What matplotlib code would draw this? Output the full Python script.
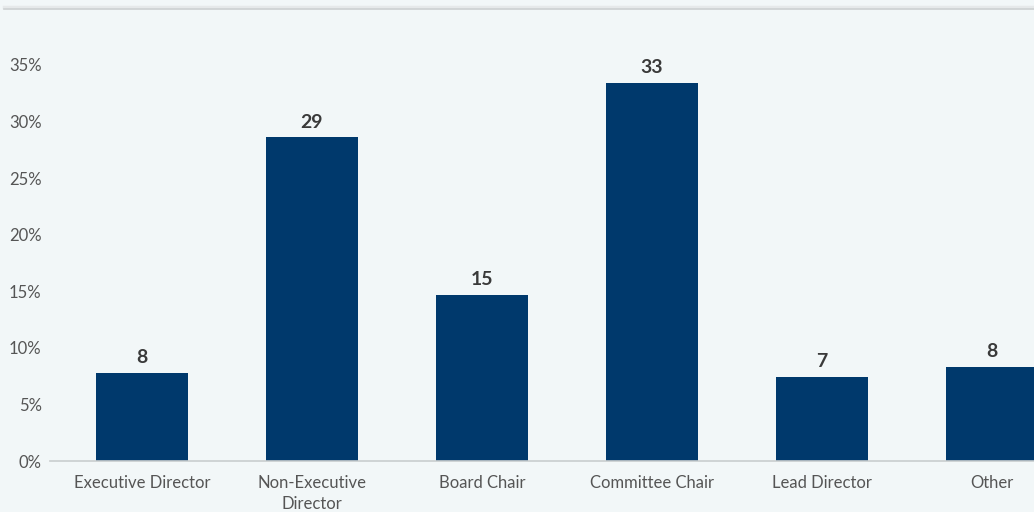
import matplotlib
matplotlib.use("Agg")
import matplotlib.pyplot as plt
from matplotlib.lines import Line2D

plt.rcParams['font.family'] = ['Lato', 'DejaVu Sans']

roles = ["Executive Director", "Non-Executive\nDirector", "Board Chair",
         "Committee Chair", "Lead Director", "Other"]
shares = [7.8, 28.6, 14.7, 33.4, 7.45, 8.3]
yticks = [0, 5, 10, 15, 20, 25, 30, 35]

bg = "#f2f7f8"
navy = "#00396c"

W, H = 1034, 512
fig = plt.figure(figsize=(W / 100, H / 100), dpi=100, facecolor=bg)
# axis runs past the right edge, so the last bar gets cut off
ax = fig.add_axes([50 / W, 51 / H, 1027 / W, 452.6 / H], facecolor=bg)

x = range(len(roles))
ax.bar(x, shares, width=0.54, color=navy, zorder=2)
for xi, v in zip(x, shares):
    ax.text(xi, v + 0.6, f"{v:.0f}", ha="center", va="bottom",
            fontsize=14, fontweight="bold", color="#3a3a3a")

ax.set_xlim(-0.54, 5.5)
ax.set_ylim(0, 40)
ax.set_yticks(yticks)
ax.set_yticklabels([f"{t}%" for t in yticks])
ax.set_xticks(list(x))
ax.set_xticklabels(roles, linespacing=1.4)
ax.tick_params(axis="y", length=0, pad=6, labelsize=12, labelcolor="#555555")
ax.tick_params(axis="x", length=0, pad=10, labelsize=12, labelcolor="#555555")

for s in ["top", "right", "left"]:
    ax.spines[s].set_visible(False)
ax.spines["bottom"].set_color("#c9cdce")
ax.spines["bottom"].set_linewidth(1.2)

# thin rule across the top
fig.add_artist(Line2D([4 / W, 1], [1 - 6.5 / H] * 2, color="#e6e9ea", lw=2.5))
fig.add_artist(Line2D([4 / W, 1], [1 - 8.8 / H] * 2, color="#cdd1d2", lw=1.2))

fig.savefig("out.png", dpi=100, facecolor=bg)
